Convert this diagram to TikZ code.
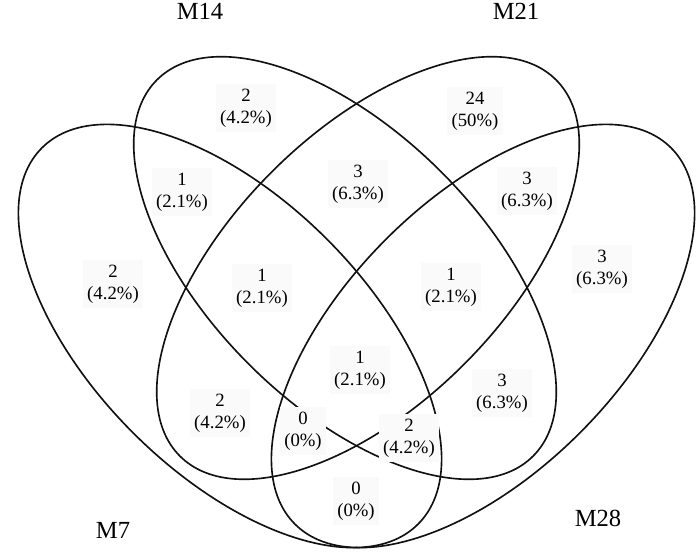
\documentclass[tikz,border=0pt]{standalone}
\usepackage{fontspec}
\setmainfont{Liberation Serif}
\usepackage{xcolor}
\usepackage{tikz}
\usetikzlibrary{
    positioning,
    calc
}
\definecolor{setline}{HTML}{111111}
\definecolor{countbg}{HTML}{FAFAFA}
\tikzset{
    set ellipse/.style={
        draw=setline, line width=1.4pt
    },
    count/.style={
        rectangle, fill=countbg, inner sep=4pt,
        align=center, font=\fontsize{16}{19}\selectfont
    },
    set label/.style={
        font=\fontsize{21}{24}\selectfont
    },
}
\begin{document}
\begin{tikzpicture}[x=0.03cm, y=0.03cm]
    \useasboundingbox (0,0) rectangle (700,551);

    % Ellipse centres
    \coordinate (m7c)  at (230,215);
    \coordinate (m14c) at (345,283);
    \coordinate (m21c) at (368,283);
    \coordinate (m28c) at (483,215);

    \draw[set ellipse, rotate around={-45:(m7c)}]  (m7c)  ellipse (266 and 137);
    \draw[set ellipse, rotate around={-45:(m14c)}] (m14c) ellipse (266 and 136);
    \draw[set ellipse, rotate around={45:(m21c)}]  (m21c) ellipse (266 and 136);
    \draw[set ellipse, rotate around={45:(m28c)}]  (m28c) ellipse (266 and 137);

    % Set names
    \node[set label] (m14) at (200,540) {M14};
    \node[set label] (m21) at (516,540) {M21};
    \node[set label] (m7)  at (113,21)  {M7};
    \node[set label] (m28) at (598,33)  {M28};

    % Counts
    \node[count] (only14)   at (246,443) {2\\(4.2\%)};
    \node[count] (only21)   at (475,440) {24\\(50\%)};
    \node[count] (c7x14)    at (182,359) {1\\(2.1\%)};
    \node[count] (c14x21)   at (358,367) {3\\(6.3\%)};
    \node[count] (c21x28)   at (527,360) {3\\(6.3\%)};
    \node[count] (only7)    at (113,267) {2\\(4.2\%)};
    \node[count] (c7x14x21) at (262,263) {1\\(2.1\%)};
    \node[count] (c14x21x28) at (451,264) {1\\(2.1\%)};
    \node[count] (only28)   at (602,282) {3\\(6.3\%)};
    \node[count] (call)     at (360,181) {1\\(2.1\%)};
    \node[count] (c7x21)    at (220,138) {2\\(4.2\%)};
    \node[count] (c14x28)   at (502,158) {3\\(6.3\%)};
    \node[count] (c7x21x28) at (303,120) {0\\(0\%)};
    \node[count] (c7x14x28) at (409,113) {2\\(4.2\%)};
    \node[count] (c7x28)    at (356,50)  {0\\(0\%)};
\end{tikzpicture}
\end{document}
